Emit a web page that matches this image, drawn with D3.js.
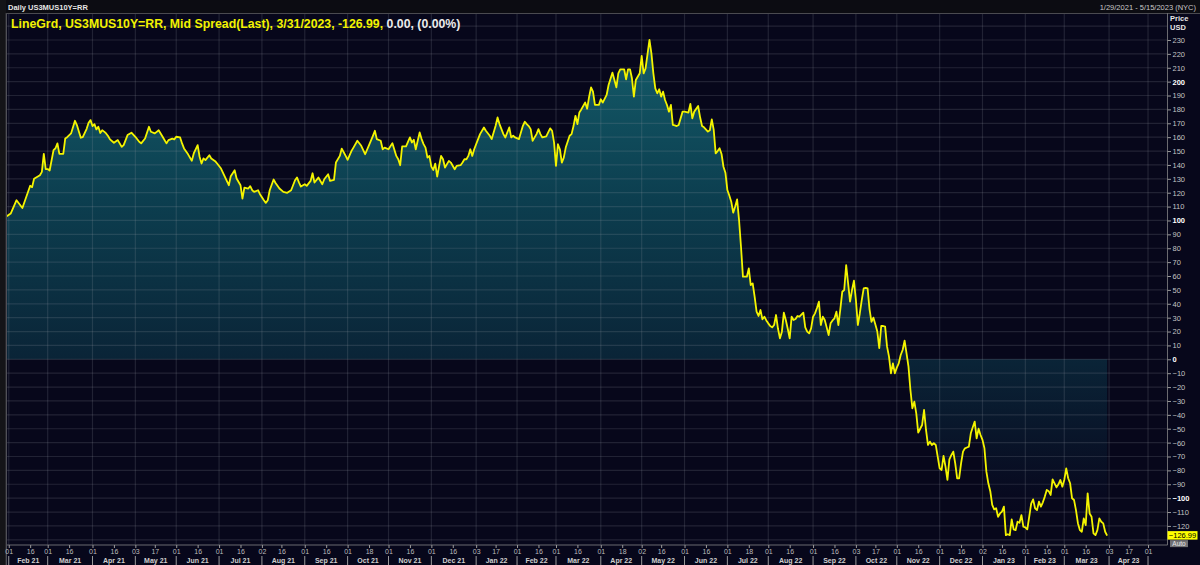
<!DOCTYPE html>
<html>
<head>
<meta charset="utf-8">
<script src="https://cdn.jsdelivr.net/npm/d3@7"></script>
<style>
html, body { margin: 0; padding: 0; background: #07071b; overflow: hidden; }
svg { display: block; font-family: "Liberation Sans", Arial, sans-serif; }
</style>
</head>
<body>
<svg id="chart" width="1200" height="565"></svg>
<script>
// US3MUS10Y=RR mid spread, basis points
var spread = [
  ["2021-01-29",103],["2021-02-02",105],["2021-02-05",114.6],["2021-02-10",109],["2021-02-16",125],["2021-02-17",124],["2021-02-18",130],["2021-02-23",132.6],["2021-02-24",135],["2021-02-25",148],["2021-02-26",137],
  ["2021-03-01",137],["2021-03-02",136],["2021-03-04",150.7],["2021-03-05",152],["2021-03-08",155.5],["2021-03-09",148],["2021-03-11",148],["2021-03-12",159],["2021-03-15",160],["2021-03-17",162.7],["2021-03-19",171.8],["2021-03-22",168.7],["2021-03-23",164],["2021-03-24",159.6],["2021-03-25",160],["2021-03-29",166],["2021-03-30",170.4],["2021-03-31",172.3],
  ["2021-04-01",168],["2021-04-02",169.4],["2021-04-05",165.6],["2021-04-06",167.5],["2021-04-07",163],["2021-04-08",165],["2021-04-09",164],["2021-04-12",162.7],["2021-04-13",160.8],["2021-04-14",158.4],["2021-04-16",156],["2021-04-20",157.9],["2021-04-22",153],["2021-04-23",154.3],["2021-04-27",161.5],["2021-04-29",163.2],
  ["2021-05-03",160.3],["2021-05-05",156.7],["2021-05-06",155.5],["2021-05-10",159],["2021-05-12",167.5],["2021-05-13",163.9],["2021-05-17",162.7],["2021-05-19",165],["2021-05-20",162.7],["2021-05-21",160.3],["2021-05-25",155.5],["2021-05-26",157.9],["2021-05-28",159],["2021-05-31",158.4],
  ["2021-06-01",160.3],["2021-06-03",159.8],["2021-06-04",155.5],["2021-06-07",151.9],["2021-06-09",147.8],["2021-06-11",143],["2021-06-14",148.3],["2021-06-16",154.3],["2021-06-17",145.9],["2021-06-18",141],["2021-06-21",144.7],["2021-06-22",143.5],["2021-06-24",147],["2021-06-25",144.7],["2021-06-29",142.7],["2021-06-30",141],
  ["2021-07-02",137.4],["2021-07-06",131.4],["2021-07-08",125.4],["2021-07-09",131.9],["2021-07-13",136.2],["2021-07-14",130.2],["2021-07-16",125.4],["2021-07-19",115.8],["2021-07-20",123.7],["2021-07-22",123],["2021-07-23",124.7],["2021-07-26",121.8],["2021-07-27",120.6],["2021-07-29",121.8],["2021-07-30",118.9],
  ["2021-08-03",114.6],["2021-08-04",112.7],["2021-08-05",114.6],["2021-08-06",121.8],["2021-08-10",129.5],["2021-08-11",127],["2021-08-13",123],["2021-08-17",120.6],["2021-08-19",119.9],["2021-08-23",121.8],["2021-08-25",129],["2021-08-26",131],["2021-08-27",127.5],["2021-08-30",124.4],
  ["2021-09-01",126.1],["2021-09-02",124.9],["2021-09-06",128.5],["2021-09-07",134],["2021-09-08",127.3],["2021-09-10",130.9],["2021-09-14",126.1],["2021-09-15",129.7],["2021-09-17",133.3],["2021-09-20",128.5],["2021-09-22",129.2],["2021-09-23",141.7],["2021-09-27",146.5],["2021-09-28",151.8],["2021-09-30",146.5],
  ["2021-10-01",143.7],["2021-10-05",150.1],["2021-10-06",152.5],["2021-10-08",157.4],["2021-10-12",153.8],["2021-10-14",147.7],["2021-10-18",154.2],["2021-10-20",161],["2021-10-21",164.6],["2021-10-22",158.6],["2021-10-26",157.4],["2021-10-27",151.3],["2021-10-28",152.5],
  ["2021-11-01",151.3],["2021-11-03",155.7],["2021-11-05",146.5],["2021-11-08",144.1],["2021-11-09",139.8],["2021-11-10",153.3],["2021-11-12",153.3],["2021-11-16",159.8],["2021-11-17",156.2],["2021-11-18",158.1],["2021-11-19",151.3],["2021-11-22",157.4],["2021-11-23",163.4],["2021-11-24",158.6],["2021-11-25",155],["2021-11-26",152.5],["2021-11-29",145.3],["2021-11-30",146.5],
  ["2021-12-01",138.8],["2021-12-02",136.4],["2021-12-03",141],["2021-12-06",131.6],["2021-12-07",139.3],["2021-12-08",146.5],["2021-12-09",144.1],["2021-12-10",138.1],["2021-12-14",142.9],["2021-12-15",141.7],["2021-12-17",136.9],["2021-12-20",139.3],["2021-12-22",139.8],["2021-12-23",141.7],["2021-12-24",144.1],["2021-12-27",144.1],["2021-12-28",146.5],["2021-12-29",151.3],["2021-12-30",146.5],["2021-12-31",151.3],
  ["2022-01-04",158.6],["2022-01-05",162.2],["2022-01-07",167],["2022-01-10",164.6],["2022-01-12",161],["2022-01-13",158.6],["2022-01-17",168.2],["2022-01-18",174.2],["2022-01-19",169.4],["2022-01-21",162.2],["2022-01-24",159.8],["2022-01-26",167],["2022-01-27",159.8],["2022-01-28",161],["2022-01-31",159.8],
  ["2022-02-02",158.6],["2022-02-04",168.2],["2022-02-07",171.1],["2022-02-08",169.4],["2022-02-09",168],["2022-02-10",165.8],["2022-02-11",157.4],["2022-02-15",162.2],["2022-02-16",165.8],["2022-02-17",162.2],["2022-02-18",159.8],["2022-02-22",160.5],["2022-02-23",163.4],["2022-02-24",166.3],["2022-02-25",164.6],["2022-02-28",156.2],
  ["2022-03-01",139.3],["2022-03-02",154.9],["2022-03-03",151.3],["2022-03-04",141.7],["2022-03-07",145.3],["2022-03-08",152.5],["2022-03-10",161],["2022-03-11",162.2],["2022-03-14",168],["2022-03-15",175.4],["2022-03-16",169.4],["2022-03-17",177.8],["2022-03-18",180],["2022-03-22",185],["2022-03-23",180.5],["2022-03-24",189],["2022-03-25",195.9],["2022-03-28",192.8],["2022-03-29",183.2],["2022-03-31",183.2],
  ["2022-04-01",187.3],["2022-04-04",184.9],["2022-04-06",190.4],["2022-04-07",197.6],["2022-04-11",206.5],["2022-04-13",195.9],["2022-04-14",206],["2022-04-15",208.9],["2022-04-19",208.9],["2022-04-20",201.7],["2022-04-21",208.9],["2022-04-22",208.9],["2022-04-25",202.4],["2022-04-26",189.2],["2022-04-27",201.2],["2022-04-29",206],
  ["2022-05-02",218.5],["2022-05-03",206],["2022-05-04",209.6],["2022-05-06",230],["2022-05-09",220.4],["2022-05-10",206],["2022-05-11",195.2],["2022-05-12",191.6],["2022-05-13",194.5],["2022-05-16",189.2],["2022-05-17",192.8],["2022-05-18",186.8],["2022-05-19",183.2],["2022-05-20",178.4],["2022-05-23",183.2],["2022-05-24",168.8],["2022-05-25",168.5],["2022-05-26",168],["2022-05-27",168.8],["2022-05-31",178.4],
  ["2022-06-01",178.4],["2022-06-03",177.7],["2022-06-06",183.9],["2022-06-07",173.6],["2022-06-08",178.4],["2022-06-10",182.4],["2022-06-13",174.3],["2022-06-14",168],["2022-06-15",167.1],["2022-06-17",164],["2022-06-20",165],["2022-06-21",172.8],["2022-06-22",165.2],["2022-06-23",148.3],["2022-06-24",150],["2022-06-27",152],["2022-06-28",147.9],["2022-06-29",138.7],["2022-06-30",134.4],
  ["2022-07-01",121.9],["2022-07-04",118],["2022-07-05",113.5],["2022-07-06",105.6],["2022-07-07",110],["2022-07-08",115.2],["2022-07-11",100.3],["2022-07-12",81.1],["2022-07-13",59.5],["2022-07-14",59.5],["2022-07-15",59.5],["2022-07-18",65.5],["2022-07-19",53.5],["2022-07-20",54.7],["2022-07-21",45.1],["2022-07-22",34.3],["2022-07-25",31.2],["2022-07-26",35.5],["2022-07-27",28.8],["2022-07-28",30.7],["2022-07-29",28],
  ["2022-08-01",25.9],["2022-08-02",24],["2022-08-03",23],["2022-08-04",24.7],["2022-08-05",31.9],["2022-08-08",22],["2022-08-09",15.1],["2022-08-10",19.9],["2022-08-11",33.6],["2022-08-12",28.3],["2022-08-15",22],["2022-08-16",15.1],["2022-08-17",30.7],["2022-08-18",28.3],["2022-08-19",29],["2022-08-22",31.2],["2022-08-23",30.7],["2022-08-25",33.6],["2022-08-26",23],["2022-08-29",20],["2022-08-30",18.7],["2022-08-31",22.3],
  ["2022-09-01",30.7],["2022-09-02",33.1],["2022-09-05",37],["2022-09-06",41.5],["2022-09-07",24.7],["2022-09-08",30.7],["2022-09-09",28.3],["2022-09-12",23],["2022-09-13",17.5],["2022-09-14",25.9],["2022-09-15",28],["2022-09-16",29.5],["2022-09-19",34.3],["2022-09-20",24.7],["2022-09-21",36],["2022-09-22",48.7],["2022-09-23",49.9],["2022-09-26",67.9],["2022-09-27",54.7],["2022-09-28",41.5],["2022-09-29",49.9],["2022-09-30",56.6],
  ["2022-10-03",42.7],["2022-10-04",24.7],["2022-10-05",33],["2022-10-06",42.7],["2022-10-07",51.1],["2022-10-10",51.5],["2022-10-11",51.1],["2022-10-12",36],["2022-10-13",27],["2022-10-14",30],["2022-10-17",25],["2022-10-18",20],["2022-10-19",8],["2022-10-20",24],["2022-10-21",24],["2022-10-24",23.5],["2022-10-25",9.1],["2022-10-26",1.9],["2022-10-27",-10.1],["2022-10-28",-2.9],["2022-10-31",-10.1],
  ["2022-11-01",-6],["2022-11-02",-2.9],["2022-11-03",3.1],["2022-11-04",6.7],["2022-11-07",13.4],["2022-11-08",4.3],["2022-11-09",-5.3],["2022-11-10",-22.1],["2022-11-11",-35.3],["2022-11-14",-30.5],["2022-11-15",-38.9],["2022-11-16",-52.8],["2022-11-17",-50],["2022-11-18",-47.3],["2022-11-21",-36.5],["2022-11-22",-50.9],["2022-11-23",-61.7],["2022-11-24",-59.3],["2022-11-25",-61.7],["2022-11-28",-60.5],["2022-11-29",-61.7],["2022-11-30",-70.1],
  ["2022-12-01",-78.5],["2022-12-02",-79.7],["2022-12-05",-69.6],["2022-12-06",-77.3],["2022-12-07",-86.9],["2022-12-08",-72],["2022-12-09",-69],["2022-12-12",-66.5],["2022-12-13",-74.9],["2022-12-14",-85.7],["2022-12-15",-85.7],["2022-12-16",-75],["2022-12-19",-66.5],["2022-12-20",-64.1],["2022-12-21",-63.5],["2022-12-22",-62.9],["2022-12-23",-53.3],["2022-12-26",-49],["2022-12-27",-44.9],["2022-12-28",-56.9],["2022-12-29",-50],["2022-12-30",-54.5],
  ["2023-01-02",-58],["2023-01-03",-64.1],["2023-01-04",-80.9],["2023-01-05",-89.3],["2023-01-06",-95],["2023-01-09",-104.9],["2023-01-10",-108.1],["2023-01-11",-107.3],["2023-01-12",-113.4],["2023-01-13",-111],["2023-01-16",-109.7],["2023-01-17",-106.1],["2023-01-18",-126.6],["2023-01-19",-126],["2023-01-20",-126.6],["2023-01-23",-115.3],["2023-01-24",-122.5],["2023-01-25",-123],["2023-01-26",-117],["2023-01-27",-117.7],["2023-01-30",-112.2],["2023-01-31",-120.6],
  ["2023-02-01",-121],["2023-02-02",-122.5],["2023-02-03",-113.4],["2023-02-06",-104],["2023-02-07",-100.9],["2023-02-08",-107.3],["2023-02-09",-108.6],["2023-02-10",-102.5],["2023-02-13",-106.1],["2023-02-14",-103],["2023-02-15",-98.9],["2023-02-16",-94.1],["2023-02-17",-95],["2023-02-20",-97.7],["2023-02-21",-86.5],["2023-02-22",-89.3],["2023-02-23",-92.2],["2023-02-24",-90],["2023-02-27",-86.9],["2023-02-28",-91.7],
  ["2023-03-01",-86.9],["2023-03-02",-78.5],["2023-03-03",-85.7],["2023-03-06",-89.3],["2023-03-07",-100.1],["2023-03-08",-101.3],["2023-03-09",-108.6],["2023-03-10",-118],["2023-03-13",-123],["2023-03-14",-124.2],["2023-03-15",-114.6],["2023-03-16",-119.4],["2023-03-17",-96.5],["2023-03-20",-111],["2023-03-21",-113.4],["2023-03-22",-125.4],["2023-03-23",-126.6],["2023-03-24",-123],["2023-03-27",-114.6],["2023-03-28",-117],["2023-03-29",-118.2],["2023-03-30",-124.2],["2023-03-31",-126.99]
];

var month_labels = ["Feb 21","Mar 21","Apr 21","May 21","Jun 21","Jul 21","Aug 21","Sep 21","Oct 21","Nov 21","Dec 21",
  "Jan 22","Feb 22","Mar 22","Apr 22","May 22","Jun 22","Jul 22","Aug 22","Sep 22","Oct 22","Nov 22","Dec 22",
  "Jan 23","Feb 23","Mar 23","Apr 23"];
var month_ticks = ["2021-02-01","2021-03-01","2021-04-01","2021-05-03","2021-06-01","2021-07-01","2021-08-02","2021-09-01","2021-10-01","2021-11-01","2021-12-01",
  "2022-01-03","2022-02-01","2022-03-01","2022-04-01","2022-05-02","2022-06-01","2022-07-01","2022-08-01","2022-09-01","2022-10-03","2022-11-01","2022-12-01",
  "2023-01-02","2023-02-01","2023-03-01","2023-04-03","2023-05-01"];
var mid_ticks = ["2021-02-16","2021-03-16","2021-04-16","2021-05-17","2021-06-16","2021-07-16","2021-08-16","2021-09-16","2021-10-18","2021-11-16","2021-12-16",
  "2022-01-17","2022-02-16","2022-03-16","2022-04-18","2022-05-16","2022-06-16","2022-07-18","2022-08-16","2022-09-16","2022-10-17","2022-11-16","2022-12-16",
  "2023-01-16","2023-02-16","2023-03-16","2023-04-17"];
var y_ticks = d3.range(-120, 240, 10);
var grid_levels = d3.range(-130, 250, 10);
var range_start = "2021-01-29", range_end = "2023-05-15";

var W = 1200, H = 565;
var plot = { top: 13, bottom: 545, left: 6.8, right: 1167.5 };

var parse = d3.utcParse("%Y-%m-%d");
var fmtDay = d3.utcFormat("%d");
var base = parse(range_start);

// the axis only counts weekdays
function tradingDay(date) {
    var days = Math.round((date - base) / 864e5);
    return Math.floor(days / 7) * 5 + [0, 0, 0, 1, 2, 3, 4][days % 7];
}

var data = spread.map(d => ({ date: parse(d[0]), value: d[1] }));

var x = d3.scaleLinear()
    .domain([0, tradingDay(parse(range_end))])
    .range([plot.left, plot.right]);
var y = d3.scaleLinear()
    .domain([-130, 240])
    .range([539.8, 26.1]);

var svg = d3.select("#chart");

svg.append("rect").attr("width", W).attr("height", H).attr("fill", "#07071b");

var defs = svg.append("defs");
defs.append("clipPath").attr("id", "clip")
  .append("rect")
    .attr("x", plot.left).attr("y", plot.top)
    .attr("width", plot.right - plot.left).attr("height", plot.bottom - plot.top);

var g1 = y(230), g2 = y(-130);
var off = v => (y(v) - g1) / (g2 - g1);
var grad = defs.append("linearGradient")
    .attr("id", "fillGrad")
    .attr("gradientUnits", "userSpaceOnUse")
    .attr("x1", 0).attr("x2", 0).attr("y1", g1).attr("y2", g2);
grad.append("stop").attr("offset", 0).attr("stop-color", "#145c6a");
grad.append("stop").attr("offset", off(115)).attr("stop-color", "#0c3e4f");
grad.append("stop").attr("offset", off(0)).attr("stop-color", "#0a2437");
grad.append("stop").attr("offset", off(-100)).attr("stop-color", "#08091f");
grad.append("stop").attr("offset", 1).attr("stop-color", "#07071b");

var body = svg.append("g").attr("clip-path", "url(#clip)");

// area between the line and zero
body.append("path")
    .datum(data)
    .attr("fill", "url(#fillGrad)")
    .attr("d", d3.area()
        .x(d => x(tradingDay(d.date)))
        .y0(y(0))
        .y1(d => y(d.value)));

// grid
body.selectAll("line.hgrid")
    .data(grid_levels)
    .enter().append("line")
    .attr("class", "hgrid")
    .attr("x1", plot.left).attr("x2", plot.right)
    .attr("y1", d => y(d)).attr("y2", d => y(d))
    .attr("stroke", "rgba(150,155,165,0.19)")
    .attr("stroke-width", 1.2);

body.selectAll("line.vgrid")
    .data(month_ticks)
    .enter().append("line")
    .attr("class", "vgrid")
    .attr("x1", d => x(tradingDay(parse(d)))).attr("x2", d => x(tradingDay(parse(d))))
    .attr("y1", plot.top).attr("y2", plot.bottom)
    .attr("stroke", "rgba(150,155,165,0.19)")
    .attr("stroke-width", 1.2);

body.append("path")
    .datum(data)
    .attr("fill", "none")
    .attr("stroke", "#f4f400")
    .attr("stroke-width", 1.8)
    .attr("stroke-linejoin", "round")
    .attr("d", d3.line()
        .x(d => x(tradingDay(d.date)))
        .y(d => y(d.value)));

// header strip and frame
svg.append("rect").attr("x", 0).attr("y", 0).attr("width", W).attr("height", plot.top).attr("fill", "#0c0c12");
svg.append("rect").attr("x", 0).attr("y", 0).attr("width", 6).attr("height", H).attr("fill", "#141418");
svg.append("line").attr("x1", 6.3).attr("x2", 6.3).attr("y1", plot.top).attr("y2", H)
    .attr("stroke", "#5a5a60").attr("stroke-width", 1.2);
svg.append("line").attr("x1", 6).attr("x2", W).attr("y1", plot.top + 0.5).attr("y2", plot.top + 0.5)
    .attr("stroke", "#4a4a50").attr("stroke-width", 1);

svg.append("text")
    .attr("x", 8).attr("y", 9.5)
    .attr("fill", "#e6e6e6").attr("font-size", "7.5px").attr("font-weight", "bold")
    .text("Daily US3MUS10Y=RR");

svg.append("text")
    .attr("x", 1196).attr("y", 9.5)
    .attr("text-anchor", "end")
    .attr("fill", "#c8c8c8").attr("font-size", "7.5px")
    .text("1/29/2021 - 5/15/2023 (NYC)");

var title = svg.append("text")
    .attr("x", 11).attr("y", 27.5)
    .attr("font-size", "12.3px").attr("font-weight", "bold");
title.append("tspan").attr("fill", "#f2f200").text("LineGrd, US3MUS10Y=RR, Mid Spread(Last), 3/31/2023, -126.99, ");
title.append("tspan").attr("fill", "#ececec").text("0.00, (0.00%)");

// right axis
var yAxis = svg.append("g")
    .attr("transform", `translate(${plot.right},0)`)
    .call(d3.axisRight(y).tickValues(y_ticks).tickSize(3.5).tickPadding(1.5).tickFormat(d3.format("d")));
yAxis.select(".domain").attr("stroke", "#6a6a70").attr("d", `M0,${plot.top}V${plot.bottom}`);
yAxis.selectAll(".tick line").attr("stroke", "#9a9a9a");
yAxis.selectAll(".tick text")
    .attr("fill", d => (d % 100 === 0) ? "#ffffff" : "#c4c4c4")
    .attr("font-weight", d => (d % 100 === 0) ? "bold" : "normal")
    .attr("font-size", "7.5px")
    .attr("font-family", "Liberation Sans, Arial, sans-serif");

svg.append("text").attr("x", 1170).attr("y", 20.5)
    .attr("fill", "#e6e6e6").attr("font-size", "7.5px").attr("font-weight", "bold").text("Price");
svg.append("text").attr("x", 1170).attr("y", 30)
    .attr("fill", "#e6e6e6").attr("font-size", "7.5px").attr("font-weight", "bold").text("USD");

// last value tag
var last = data[data.length - 1];
svg.append("rect").attr("x", plot.right).attr("y", y(last.value) - 4.5)
    .attr("width", 30).attr("height", 8.5).attr("fill", "#ffff00");
svg.append("text").attr("x", plot.right + 15).attr("y", y(last.value) + 2.6)
    .attr("text-anchor", "middle").attr("fill", "#000").attr("font-size", "7.5px")
    .text(d3.format(".2f")(last.value));
svg.append("rect").attr("x", 1170).attr("y", y(last.value) + 4.5)
    .attr("width", 18).attr("height", 7).attr("fill", "#707074");
svg.append("text").attr("x", 1179).attr("y", y(last.value) + 10.5)
    .attr("text-anchor", "middle").attr("fill", "#e8e8e8").attr("font-size", "6.5px")
    .text("Auto");

// bottom axis
var dayTicks = month_ticks.concat(mid_ticks).map(parse);
var xAxis = svg.append("g")
    .attr("transform", `translate(0,${plot.bottom})`)
    .call(d3.axisBottom(x)
        .tickValues(dayTicks.map(tradingDay))
        .tickSize(3).tickPadding(1.5)
        .tickFormat((d, i) => fmtDay(dayTicks[i])));
xAxis.select(".domain").attr("stroke", "#6a6a70").attr("d", `M${plot.left},0H${plot.right}`);
xAxis.selectAll(".tick line").attr("stroke", "#9a9a9a");
xAxis.selectAll(".tick text")
    .attr("fill", "#bcbcbc").attr("font-size", "7px")
    .attr("font-family", "Liberation Sans, Arial, sans-serif");

var monthX = month_ticks.map(d => x(tradingDay(parse(d))));
svg.selectAll("line.msep")
    .data(monthX)
    .enter().append("line")
    .attr("class", "msep")
    .attr("x1", d => d).attr("x2", d => d)
    .attr("y1", 556).attr("y2", 565)
    .attr("stroke", "#9a9a9a");
svg.selectAll("text.mlabel")
    .data(month_labels)
    .enter().append("text")
    .attr("class", "mlabel")
    .attr("x", (d, i) => (monthX[i] + monthX[i + 1]) / 2)
    .attr("y", 563)
    .attr("text-anchor", "middle")
    .attr("fill", "#cfcfcf").attr("font-size", "7px").attr("font-weight", "bold")
    .text(d => d);
</script>
</body>
</html>
